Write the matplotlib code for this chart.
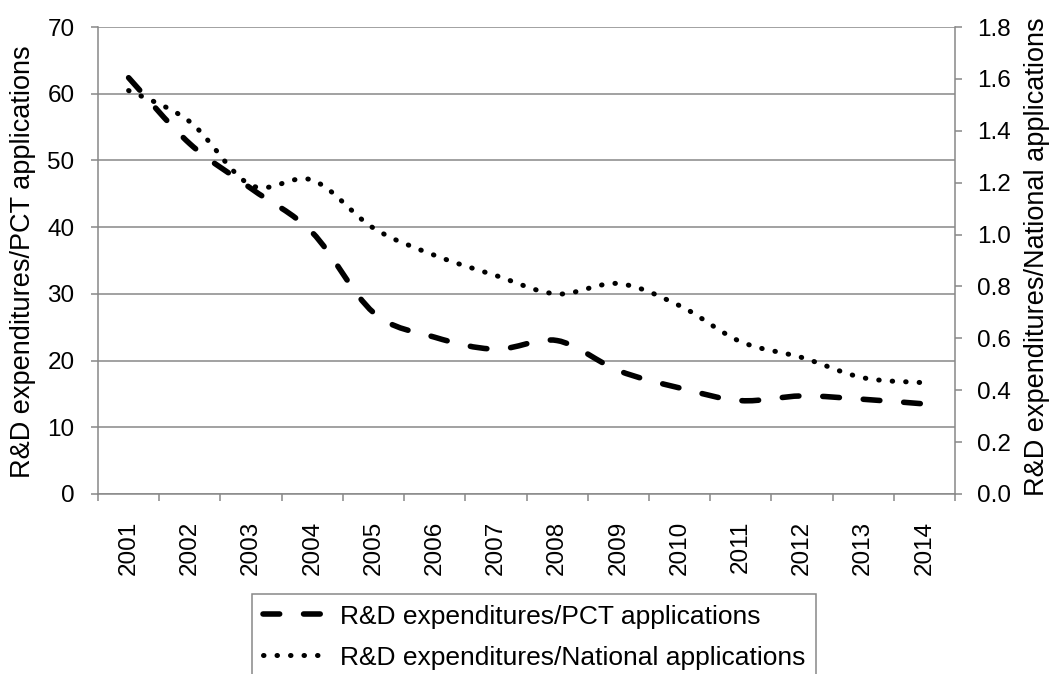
import numpy as np
import matplotlib
matplotlib.use("Agg")
import matplotlib.pyplot as plt
from matplotlib.path import Path
from matplotlib.patches import PathPatch
from matplotlib.lines import Line2D

# ---- data ----
years = [str(y) for y in range(2001, 2015)]
pct_values = [62.4, 52.5, 45.8, 39.2, 27.2, 23.5, 21.7, 23.0, 18.5, 15.9, 14.0, 14.7, 14.2, 13.5]
nat_values = [1.555, 1.435, 1.19, 1.21, 1.025, 0.92, 0.842, 0.771, 0.811, 0.726, 0.587, 0.526, 0.448, 0.429]
left_ticks = [0, 10, 20, 30, 40, 50, 60, 70]
right_ticks = [0.0, 0.2, 0.4, 0.6, 0.8, 1.0, 1.2, 1.4, 1.6, 1.8]
label_pct = "R&D expenditures/PCT applications"
label_nat = "R&D expenditures/National applications"

plt.rcParams['font.family'] = ['Liberation Sans', 'DejaVu Sans']

GRAY = '#888888'
TICK_FS = 17.5
LABEL_FS = 19.5
LEG_FS = 19

DASH = (0, (3, 4.3))
DOT = (0, (0.1, 2.6))
LW_DASH = 4.0
LW_DOT = 3.6


def smooth_path(xs, ys):
    """Excel-like smoothed line (Catmull-Rom as cubic Bezier)."""
    pts = np.column_stack([xs, ys]).astype(float)
    n = len(pts)
    verts = [pts[0]]
    codes = [Path.MOVETO]
    for i in range(n - 1):
        p0 = pts[i - 1] if i > 0 else pts[i]
        p1 = pts[i]
        p2 = pts[i + 1]
        p3 = pts[i + 2] if i + 2 < n else pts[i + 1]
        c1 = p1 + (p2 - p0) / 6.0
        c2 = p2 - (p3 - p1) / 6.0
        verts += [c1, c2, p2]
        codes += [Path.CURVE4] * 3
    return Path(np.array(verts), codes)


fig = plt.figure(figsize=(10.53, 6.74), dpi=100)
ax = fig.add_axes([98 / 1053, 1 - 494 / 674, (955 - 98) / 1053, (494 - 27) / 674])
ax2 = ax.twinx()

x = np.arange(len(years))

ax.set_xlim(-0.5, len(years) - 0.5)
ax.set_ylim(0, 70)
ax2.set_ylim(0, 1.8)

# grid
ax.set_yticks(left_ticks)
ax.set_yticklabels([str(t) for t in left_ticks])
ax.yaxis.grid(True, color=GRAY, lw=1.1)
ax.set_axisbelow(True)

# x ticks: marks at boundaries, labels at centers
ax.set_xticks(np.arange(-0.5, len(years), 1.0))
ax.set_xticklabels([])
ax.set_xticks(x, minor=True)
ax.set_xticklabels(years, minor=True, rotation=90)
ax.tick_params(axis='x', which='major', length=5, width=1.1, color=GRAY)
ax.tick_params(axis='x', which='minor', length=0, pad=19, labelsize=TICK_FS)
ax.tick_params(axis='y', length=5, width=1.1, color=GRAY, pad=12, labelsize=TICK_FS)

ax2.set_yticks(right_ticks)
ax2.set_yticklabels([f"{t:.1f}" for t in right_ticks])
ax2.tick_params(axis='y', length=5, width=1.1, color=GRAY, pad=11, labelsize=TICK_FS)

for a in (ax, ax2):
    for s in a.spines.values():
        s.set_color(GRAY)
        s.set_linewidth(1.1)
    a.spines['top'].set_visible(False)
ax.spines['right'].set_visible(False)
ax2.spines['left'].set_visible(False)
ax2.spines['bottom'].set_visible(False)

# lines
p1 = PathPatch(smooth_path(x, pct_values), fill=False, edgecolor='black',
               lw=LW_DASH, linestyle=DASH, capstyle='round', zorder=3)
ax.add_patch(p1)
p2 = PathPatch(smooth_path(x, nat_values), fill=False, edgecolor='black',
               lw=LW_DOT, linestyle=DOT, capstyle='round', zorder=3)
ax2.add_patch(p2)

# axis labels
fig.text(23 / 1053, 1 - 262 / 674, label_pct, rotation=90, ha='center', va='center',
         fontsize=LABEL_FS)
fig.text(1037 / 1053, 1 - 257 / 674, label_nat, rotation=90, ha='center', va='center',
         fontsize=LABEL_FS)

# legend
h1 = Line2D([], [], color='black', lw=LW_DASH, linestyle=DASH, dash_capstyle='round')
h2 = Line2D([], [], color='black', lw=LW_DOT, linestyle=DOT, dash_capstyle='round')
leg = fig.legend([h1, h2], [label_pct, label_nat], loc='upper left',
                 bbox_to_anchor=(252 / 1053, 1 - 594 / 674), borderaxespad=0,
                 fontsize=LEG_FS, frameon=True, fancybox=False, edgecolor=GRAY,
                 framealpha=1, handlelength=2.45, handletextpad=0.5,
                 borderpad=0.4, labelspacing=0.65)
leg.get_frame().set_linewidth(1.1)

fig.savefig("out.png", dpi=100)
